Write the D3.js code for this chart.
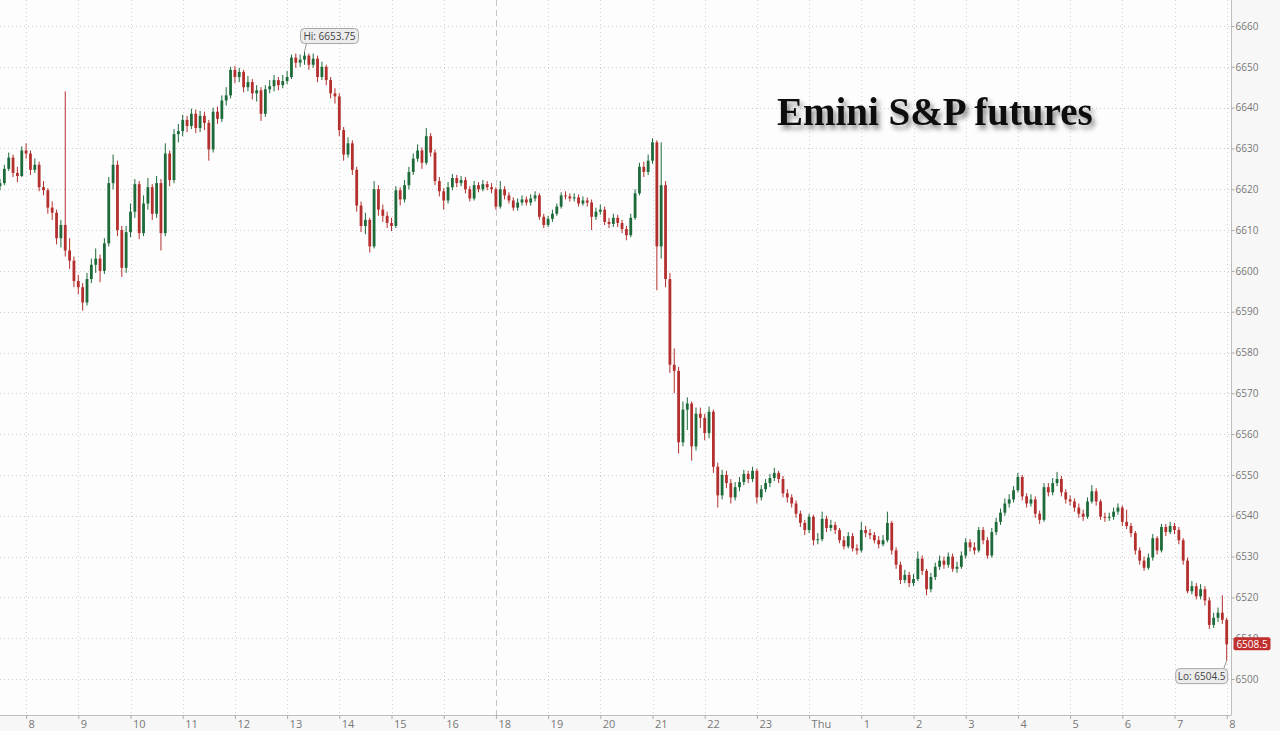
<!DOCTYPE html>
<html>
<head>
<meta charset="utf-8">
<script src="https://cdn.jsdelivr.net/npm/d3@7"></script>
<style>
  html, body { margin: 0; padding: 0; background: #fdfdfd; }
  svg { display: block; }
</style>
</head>
<body>
<svg id="chart" width="1280" height="731"></svg>
<script>
// ---- DATA (5-minute candles, trading-minutes from 08:00 Wed; 17:00-18:00 break removed) ----
const startMinute = -30;   // first candle 07:30
const barMinutes = 5;

const closes = [
  6621.5, 6625, 6627.75, 6624, 6623.25, 6629.5, 6628.75, 6624.75, 6626, 6620.5,
  6619.75, 6615.5, 6614.25, 6608, 6611.25, 6605, 6602.5, 6597.5, 6596, 6592.25,
  6598, 6601.5, 6603, 6600, 6606.75, 6621.5, 6626, 6610, 6600.75, 6609.5,
  6614.5, 6621.25, 6609.25, 6616.5, 6620.5, 6614, 6621.5, 6609.25, 6628.75, 6622.25,
  6633.5, 6634.25, 6637, 6635.5, 6638.5, 6635, 6638, 6636.25, 6629.75, 6639,
  6637.25, 6641.75, 6643, 6649.25, 6647.5, 6648.75, 6645, 6646.25, 6643.5, 6644.25,
  6638.5, 6644.5, 6645.25, 6646.75, 6645.5, 6646.5, 6647.5, 6652.25, 6651, 6651.75,
  6652.75, 6650.5, 6652, 6647.5, 6650, 6646.75, 6643.5, 6642.75, 6634.5, 6628.5,
  6631.25, 6624.75, 6616, 6611, 6612.5, 6606, 6620, 6615, 6613.5, 6611.75,
  6611, 6619.75, 6617.5, 6621, 6624.25, 6627.5, 6629.5, 6626.5, 6633, 6629,
  6622, 6619.5, 6617.25, 6620.5, 6622.75, 6621.5, 6622.25, 6620, 6617.75, 6621,
  6620, 6621.25, 6620.5, 6620, 6615.75, 6620, 6618.5, 6617.25, 6615.5, 6616.75,
  6617.5, 6616.75, 6617.75, 6618.5, 6613.25, 6611.25, 6612.75, 6614, 6615.75, 6618.5,
  6618.25, 6617.75, 6618, 6616.5, 6617.25, 6616.75, 6613.25, 6614.5, 6615, 6612,
  6611.5, 6613, 6611.75, 6610.25, 6608.75, 6613, 6619, 6625.5, 6624.25, 6627,
  6631.5, 6606, 6621, 6598, 6577, 6575.5, 6558, 6566, 6567.5, 6557,
  6565, 6564, 6560.25, 6565.5, 6552, 6545, 6550, 6548, 6544.5, 6547,
  6548.25, 6550.25, 6549, 6551, 6544.5, 6546.5, 6548, 6549.25, 6550.5, 6549,
  6545.5, 6544.5, 6543, 6540.5, 6538.25, 6536.5, 6539.75, 6534, 6534.25, 6539.25,
  6537, 6537.75, 6536.5, 6534, 6532.5, 6535, 6532, 6531.5, 6536.5, 6535.75,
  6535.25, 6534, 6533, 6534, 6538.25, 6531.5, 6528, 6524.25, 6525.5, 6523.5,
  6524.5, 6529.5, 6526.5, 6522, 6525, 6527.5, 6529, 6528, 6530, 6527,
  6527.5, 6530.25, 6533.5, 6532.25, 6531.5, 6536.5, 6534, 6530.25, 6536, 6538.5,
  6540.75, 6543, 6544, 6546.25, 6549.5, 6544.75, 6543, 6544, 6540.5, 6539,
  6547, 6545.75, 6548, 6549, 6545.75, 6544, 6543.5, 6542, 6540.5, 6539.75,
  6543.5, 6546, 6543.5, 6539.75, 6539.5, 6539.75, 6541, 6542, 6538.5, 6537.5,
  6535.75, 6531.5, 6529, 6527.25, 6529.75, 6534.5, 6531.5, 6537.25, 6536, 6537.5,
  6536.5, 6534, 6529, 6521.5, 6522.75, 6520.25, 6522, 6519.25, 6513.25, 6515,
  6516.25, 6514.5, 6508.5
];

const highs = [
  6622.5, 6626, 6629, 6628.5, 6625.5, 6630.5, 6631.25, 6629.5, 6627.5, 6626.75,
  6622, 6620.25, 6617, 6615, 6612.5, 6644, 6608, 6603.5, 6599, 6597,
  6599.5, 6603, 6605.5, 6604, 6608, 6623, 6628.5, 6627, 6611, 6611,
  6616.5, 6622.5, 6622, 6618.5, 6622.75, 6621.25, 6623.25, 6622.5, 6631.25, 6629.5,
  6634.75, 6636, 6638.25, 6638, 6639.75, 6639.5, 6639.25, 6639, 6637, 6640,
  6640.25, 6643, 6645, 6650, 6650.25, 6649.75, 6649.25, 6647.75, 6647, 6645.5,
  6645, 6645.5, 6646.75, 6648, 6647.5, 6648, 6649, 6653, 6653.25, 6653,
  6653.75, 6653.25, 6653.25, 6652.75, 6651.25, 6650.5, 6647.5, 6644.75, 6643.5, 6635.25,
  6632.75, 6632, 6625.5, 6617, 6614.25, 6613, 6622, 6621, 6616.25, 6614.5,
  6613, 6620.75, 6620.5, 6622.25, 6625.5, 6628.75, 6631, 6630.25, 6635, 6633.75,
  6629.75, 6623, 6620.25, 6621.75, 6623.75, 6623.5, 6623.25, 6623, 6620.75, 6622,
  6621.75, 6622.25, 6622, 6621.5, 6620.5, 6622, 6620.75, 6619.25, 6618, 6617.75,
  6618.5, 6618.25, 6618.75, 6619.5, 6619, 6614, 6613.5, 6615, 6616.5, 6619.25,
  6619.5, 6619, 6619, 6618.75, 6618.25, 6618, 6617.5, 6615.5, 6616.25, 6615.75,
  6613, 6614, 6613.75, 6612.5, 6611, 6614, 6620, 6626.5, 6626.75, 6628.5,
  6632.5, 6632, 6631.5, 6622, 6599.5, 6581, 6576.5, 6568, 6569, 6568,
  6566.5, 6566.5, 6565, 6566.75, 6566, 6553, 6551.25, 6551, 6549, 6548.25,
  6549.5, 6551.25, 6551, 6552, 6551.5, 6547.5, 6549, 6550.25, 6551.75, 6551,
  6549.75, 6546.5, 6545.25, 6543.75, 6541.25, 6539, 6540.5, 6540.25, 6535.75, 6541,
  6540, 6539, 6538.5, 6537, 6535, 6536, 6535.75, 6533, 6538.5, 6537.5,
  6536.75, 6536, 6535, 6535.25, 6541, 6538.75, 6532.25, 6528.75, 6526.75, 6526.25,
  6525.75, 6531.25, 6530.25, 6527, 6526, 6528.5, 6530.25, 6530, 6531, 6530.75,
  6528.75, 6531.25, 6534.5, 6534.25, 6533.5, 6537.25, 6537.25, 6534.75, 6537, 6539.5,
  6541.75, 6544.25, 6545.25, 6547.25, 6550.5, 6550, 6545.5, 6545.25, 6544.75, 6541.25,
  6548, 6548, 6549.25, 6550.75, 6549.75, 6546.5, 6545, 6544.25, 6543, 6541.5,
  6544.5, 6547.5, 6546.75, 6544, 6540.75, 6540.75, 6542, 6543, 6542.5, 6541.5,
  6538.25, 6536.25, 6532.25, 6530, 6530.75, 6535.5, 6535, 6538, 6538, 6538.5,
  6538.25, 6537.25, 6534.5, 6529.75, 6524, 6523.5, 6523.25, 6522.75, 6520, 6516.25,
  6517.5, 6520.5, 6515
];

const lows = [
  6619.75, 6621, 6624.5, 6623, 6621.75, 6623, 6627.5, 6623.5, 6624, 6619.5,
  6618.5, 6614, 6612.5, 6606.5, 6605.75, 6603.5, 6600.5, 6596, 6594.25, 6590.25,
  6591.5, 6597, 6599.5, 6597.25, 6599.25, 6606, 6620, 6608.5, 6598.5, 6599.5,
  6608.25, 6613, 6607.75, 6608.5, 6615, 6612.5, 6613, 6605, 6608.5, 6620.75,
  6621.5, 6631.5, 6633, 6634, 6634.75, 6633.75, 6634, 6634.5, 6627, 6629,
  6636, 6636.5, 6640.5, 6642.25, 6646, 6646.25, 6643.75, 6644, 6642, 6641.5,
  6636.75, 6637.75, 6643.5, 6644, 6644.25, 6644.75, 6645.75, 6647, 6649.75, 6650,
  6650.5, 6649.25, 6649.75, 6646.25, 6646.75, 6645.5, 6642.25, 6641, 6633, 6627,
  6627.75, 6623.5, 6614.5, 6609.5, 6609, 6604.5, 6605.5, 6613.5, 6612, 6610.5,
  6609.75, 6610.5, 6616, 6616.75, 6620, 6623.5, 6626.75, 6625, 6626, 6628,
  6621, 6618.25, 6615, 6616.5, 6619.75, 6620.5, 6620.75, 6619, 6617, 6617.25,
  6619.25, 6619.5, 6619.75, 6619, 6615, 6615.25, 6617.5, 6616.5, 6614.75, 6614.75,
  6616, 6616, 6616, 6617, 6612.5, 6610.5, 6610.75, 6612, 6613.5, 6615.25,
  6617.5, 6617, 6617, 6615.75, 6616, 6615.75, 6610, 6612.5, 6613.75, 6611.25,
  6610.5, 6610.75, 6610.75, 6609.25, 6607.5, 6608.25, 6612.5, 6618.5, 6623, 6623.5,
  6626.25, 6595.25, 6603, 6596, 6575, 6570, 6555.25, 6557, 6561, 6553.5,
  6556, 6561.5, 6558.5, 6559, 6550.5, 6542, 6544, 6546.75, 6543, 6543.75,
  6546, 6547.5, 6548, 6548.25, 6543, 6543.75, 6545.75, 6547, 6548.5, 6548,
  6544.5, 6543.25, 6542, 6539.5, 6537.25, 6535.25, 6535.75, 6532.75, 6533, 6533.75,
  6536, 6536.25, 6535.5, 6533.25, 6531.75, 6532, 6531.25, 6530.5, 6531, 6534.75,
  6534.25, 6533.25, 6532, 6532.5, 6533.5, 6530.5, 6527, 6523.25, 6523.5, 6522.5,
  6522.75, 6524, 6525.5, 6520.5, 6521.25, 6524.25, 6526.75, 6527, 6527.25, 6526.25,
  6526, 6527, 6529.5, 6531.25, 6530.5, 6531, 6533, 6529.5, 6529.75, 6535.25,
  6537.75, 6540, 6542, 6543.25, 6545.75, 6543.75, 6542, 6542.25, 6539.5, 6538,
  6538.5, 6544.75, 6545, 6547.25, 6544.75, 6543, 6542.5, 6541, 6539.5, 6538.75,
  6539.25, 6543, 6542.5, 6539, 6538.5, 6538.75, 6539, 6540.25, 6537.5, 6536.75,
  6534.75, 6530.5, 6528, 6526.5, 6526.75, 6529, 6530.5, 6531, 6535, 6535.5,
  6535.5, 6533, 6528, 6521, 6520.75, 6519.5, 6519.5, 6518, 6512.25, 6512.5,
  6514, 6513.5, 6504.5
];
const firstOpen = 6620.75;

const hourTickMinutes = [0, 60, 120, 180, 240, 300, 360, 420, 480, 540, 600, 660, 720, 780, 840, 900, 960, 1020, 1080, 1140, 1200, 1260, 1320, 1380];
const hourTickLabels = ["8", "9", "10", "11", "12", "13", "14", "15", "16", "18", "19", "20", "21", "22", "23", "Thu", "1", "2", "3", "4", "5", "6", "7", "8"];
const sessionBreakMinute = 540; // 18:00 reopen
const priceTicks = [6500, 6510, 6520, 6530, 6540, 6550, 6560, 6570, 6580, 6590, 6600, 6610, 6620, 6630, 6640, 6650, 6660];
const titleText = "Emini S&P futures";

// ---- build candles ----
const candles = closes.map((c, i) => ({
  t: startMinute + i * barMinutes,
  o: i === 0 ? firstOpen : closes[i - 1],
  h: highs[i], l: lows[i], c: c
}));

// ---- layout ----
const W = 1280, H = 731;
const plotRight = 1231.5, plotBottom = 715;
const svg = d3.select("#chart");

const x = d3.scaleLinear().domain([-30, 1380]).range([0, 1226.7]);
const y = d3.scaleLinear().domain([6500, 6660]).range([679, 26]);

const defs = svg.append("defs");
const f = defs.append("filter").attr("id", "shadow").attr("x", "-10%").attr("y", "-30%").attr("width", "130%").attr("height", "180%");
f.append("feDropShadow").attr("dx", 3).attr("dy", 4).attr("stdDeviation", 2.4).attr("flood-color", "#000").attr("flood-opacity", 0.45);

// backgrounds
svg.append("rect").attr("x", 0).attr("y", 0).attr("width", W).attr("height", H).attr("fill", "#f7f7f7");
svg.append("rect").attr("x", 0).attr("y", 0).attr("width", plotRight).attr("height", plotBottom).attr("fill", "#fdfdfd");

// grid
const grid = svg.append("g");
grid.selectAll("line.hg").data(priceTicks).join("line")
  .attr("x1", 0).attr("x2", plotRight)
  .attr("y1", d => Math.round(y(d)) + 0.5).attr("y2", d => Math.round(y(d)) + 0.5)
  .attr("stroke", "#cfcfcf").attr("stroke-width", 1).attr("stroke-dasharray", "1,3");
grid.selectAll("line.vg").data(hourTickMinutes.filter(m => m !== sessionBreakMinute)).join("line")
  .attr("x1", d => Math.round(x(d)) + 0.5).attr("x2", d => Math.round(x(d)) + 0.5)
  .attr("y1", 0).attr("y2", plotBottom)
  .attr("stroke", "#d2d2d2").attr("stroke-width", 1).attr("stroke-dasharray", "1,3");
grid.append("line")
  .attr("x1", Math.round(x(sessionBreakMinute)) + 0.5).attr("x2", Math.round(x(sessionBreakMinute)) + 0.5)
  .attr("y1", 0).attr("y2", plotBottom)
  .attr("stroke", "#c4c4c4").attr("stroke-width", 1).attr("stroke-dasharray", "6,4");

// title
svg.append("text")
  .attr("x", 777).attr("y", 125)
  .attr("font-family", "'Liberation Serif', 'DejaVu Serif', serif")
  .attr("font-weight", "bold").attr("font-size", 39)
  .attr("fill", "#111").attr("filter", "url(#shadow)")
  .text(titleText);

// candles
const up = "#1d6b3a", down = "#b3302e";
const bw = 2.8;
const cg = svg.append("g");
cg.selectAll("line.wick").data(candles).join("line")
  .attr("x1", d => x(d.t)).attr("x2", d => x(d.t))
  .attr("y1", d => y(d.h)).attr("y2", d => y(d.l))
  .attr("stroke", d => d.c >= d.o ? up : down).attr("stroke-width", 1);
cg.selectAll("rect.body").data(candles).join("rect")
  .attr("x", d => x(d.t) - bw / 2)
  .attr("y", d => y(Math.max(d.o, d.c)))
  .attr("width", bw)
  .attr("height", d => Math.max(1, Math.abs(y(d.o) - y(d.c))))
  .attr("fill", d => d.c >= d.o ? up : down);

// axes
svg.append("line").attr("x1", 0).attr("x2", plotRight).attr("y1", plotBottom + 0.5).attr("y2", plotBottom + 0.5).attr("stroke", "#bdbdbd");
svg.append("line").attr("x1", plotRight).attr("x2", plotRight).attr("y1", 0).attr("y2", plotBottom).attr("stroke", "#bdbdbd");

const xAxis = d3.axisBottom(x).tickValues(hourTickMinutes).tickSize(4).tickFormat((d, i) => hourTickLabels[i]);
const gx = svg.append("g").attr("transform", `translate(0,${plotBottom})`).call(xAxis);
gx.select(".domain").remove();
gx.selectAll(".tick line").attr("stroke", "#aaa");
gx.selectAll(".tick text").attr("text-anchor", "start").attr("x", 2).attr("y", 5)
  .attr("font-family", "'Open Sans', 'DejaVu Sans', sans-serif").attr("font-size", 11).attr("fill", "#777");

const yAxis = d3.axisRight(y).tickValues(priceTicks).tickSize(3).tickFormat(d3.format("d"));
const gy = svg.append("g").attr("transform", `translate(${plotRight},0)`).call(yAxis);
gy.select(".domain").remove();
gy.selectAll(".tick line").attr("stroke", "#aaa");
gy.selectAll(".tick text").attr("x", 4)
  .attr("font-family", "'Open Sans', 'DejaVu Sans', sans-serif").attr("font-size", 10).attr("fill", "#777");

// Hi / Lo callouts
const hiIdx = d3.maxIndex(candles, d => d.h);
const loIdx = d3.minIndex(candles, d => d.l);
const hi = candles[hiIdx], lo = candles[loIdx];

function callout(text, bx, by, bwid, px1, py1, px2, py2) {
  const g = svg.append("g");
  g.append("line").attr("x1", px1).attr("y1", py1).attr("x2", px2).attr("y2", py2).attr("stroke", "#999").attr("stroke-width", 1);
  g.append("rect").attr("x", bx).attr("y", by).attr("width", bwid).attr("height", 15).attr("rx", 4)
    .attr("fill", "#ececec").attr("stroke", "#a8a8a8");
  g.append("text").attr("x", bx + bwid / 2).attr("y", by + 11).attr("text-anchor", "middle")
    .attr("font-family", "'Open Sans', 'DejaVu Sans', sans-serif").attr("font-size", 10).attr("fill", "#444")
    .text(text);
}
const hx = x(hi.t), hy = y(hi.h);
callout("Hi: " + hi.h, hx - 4, hy - 23, 58, hx + 2, hy - 8, hx, hy);
const lx = x(lo.t), ly = y(lo.l);
callout("Lo: " + lo.l, lx - 51, ly + 8, 52, lx - 3, ly + 8, lx, ly);

// last price tag (drawn over the axis label it covers, as in the source)
const last = candles[candles.length - 1];
const ty = y(last.c);
svg.append("rect").attr("x", plotRight + 2).attr("y", ty - 7).attr("width", 37).attr("height", 13).attr("rx", 2).attr("fill", "#c0302e");
svg.append("text").attr("x", plotRight + 20.5).attr("y", ty + 3.5).attr("text-anchor", "middle")
  .attr("font-family", "'Open Sans', 'DejaVu Sans', sans-serif").attr("font-size", 10).attr("fill", "#fff")
  .text(last.c);
</script>
</body>
</html>
